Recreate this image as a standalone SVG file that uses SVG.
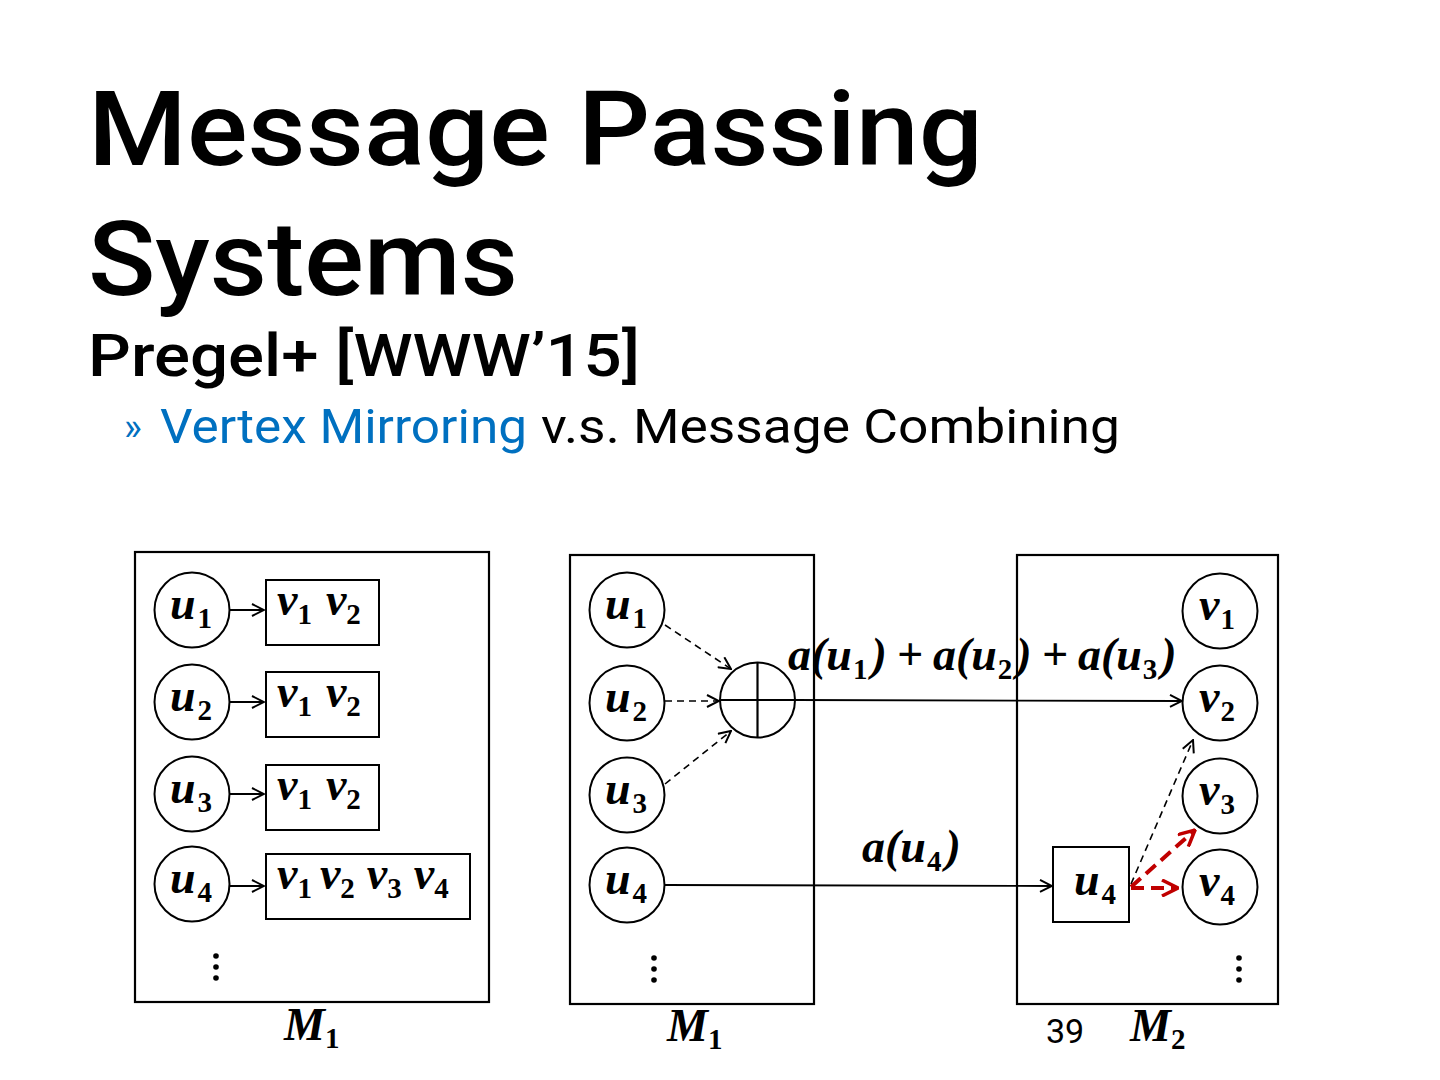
<svg xmlns="http://www.w3.org/2000/svg" width="1440" height="1080" viewBox="0 0 1440 1080">
<defs>
<marker id="ah" viewBox="0 0 14 14" refX="13" refY="7" markerWidth="14" markerHeight="14" markerUnits="userSpaceOnUse" orient="auto">
<path d="M1,1 L13,7 L1,13" fill="none" stroke="#000" stroke-width="2"/>
</marker>
<marker id="ahr" viewBox="0 0 18 18" refX="17" refY="9" markerWidth="18" markerHeight="18" markerUnits="userSpaceOnUse" orient="auto">
<path d="M1,1 L17,9 L1,17" fill="none" stroke="#c00000" stroke-width="3.5"/>
</marker>
</defs>
<style>
.t{font-family:Roboto,"Liberation Sans",Arial,sans-serif;fill:#000}
.b{fill:#0070c0}
.m{font-family:"Liberation Serif","Times New Roman",serif;font-weight:bold;font-style:italic;font-size:46px;fill:#000}
.s{font-style:normal;font-size:29px}
.n{fill:#fff;stroke:#000;stroke-width:2}
.p{fill:none;stroke:#000;stroke-width:2.2}
.c{fill:none;stroke:#000;stroke-width:1.8}
.d{fill:none;stroke:#000;stroke-width:1.6;stroke-dasharray:7 5}
.r{fill:none;stroke:#c00000;stroke-width:4;stroke-dasharray:13 7}
</style>
<rect width="1440" height="1080" fill="#fff"/>
<text class="t" x="88" y="165" font-size="104" font-weight="500" textLength="895" lengthAdjust="spacingAndGlyphs">Message Passing</text>
<text class="t" x="88" y="295" font-size="104" font-weight="500" textLength="430" lengthAdjust="spacingAndGlyphs">Systems</text>
<text class="t" x="88" y="376" font-size="60" font-weight="500" textLength="552" lengthAdjust="spacingAndGlyphs">Pregel+ [WWW’15]</text>
<text class="t b" x="124" y="440" font-size="38">»</text>
<text class="t b" x="160" y="443" font-size="48" textLength="367" lengthAdjust="spacingAndGlyphs">Vertex Mirroring</text>
<text class="t" x="541" y="443" font-size="48" textLength="579" lengthAdjust="spacingAndGlyphs">v.s. Message Combining</text>

<g id="panel-left">
<rect class="p" x="135" y="552" width="354" height="450"/>
</g>
<g id="panel-mid">
<rect class="p" x="570" y="555" width="244" height="449"/>
</g>
<g id="panel-right">
<rect class="p" x="1017" y="555" width="261" height="449"/>
</g>

<g id="connectors">
<line class="c" x1="230" y1="610" x2="264" y2="610" marker-end="url(#ah)"/>
<line class="c" x1="230" y1="702" x2="264" y2="702" marker-end="url(#ah)"/>
<line class="c" x1="230" y1="794" x2="264" y2="794" marker-end="url(#ah)"/>
<line class="c" x1="230" y1="886" x2="264" y2="886" marker-end="url(#ah)"/>
<line class="d" x1="665" y1="625" x2="731" y2="669" marker-end="url(#ah)"/>
<line class="d" x1="665" y1="701" x2="719" y2="701" marker-end="url(#ah)"/>
<line class="d" x1="665" y1="784" x2="731" y2="731" marker-end="url(#ah)"/>
<line class="c" x1="795" y1="700" x2="1182" y2="701" marker-end="url(#ah)"/>
<line class="c" x1="665" y1="885" x2="1052" y2="886" marker-end="url(#ah)"/>
<line class="d" x1="1131" y1="884" x2="1193" y2="740" marker-end="url(#ah)"/>
<line class="r" x1="1131" y1="887" x2="1195" y2="830" marker-end="url(#ahr)"/>
<line class="r" x1="1131" y1="888" x2="1178" y2="888" marker-end="url(#ahr)"/>
</g>

<g id="left-u1"><circle class="n" cx="192" cy="610" r="37.5"/><text class="m" x="170" y="619">u<tspan class="s" dx="2" dy="9">1</tspan></text></g>
<g id="left-u2"><circle class="n" cx="192" cy="702" r="37.5"/><text class="m" x="170" y="711">u<tspan class="s" dx="2" dy="9">2</tspan></text></g>
<g id="left-u3"><circle class="n" cx="192" cy="794" r="37.5"/><text class="m" x="170" y="803">u<tspan class="s" dx="2" dy="9">3</tspan></text></g>
<g id="left-u4"><circle class="n" cx="192" cy="884" r="37.5"/><text class="m" x="170" y="893">u<tspan class="s" dx="2" dy="9">4</tspan></text></g>
<g id="left-b1"><rect class="n" x="266" y="580" width="113" height="65"/><text class="m" x="277" y="615">v<tspan class="s" dy="9">1</tspan><tspan dx="14" dy="-9">v</tspan><tspan class="s" dy="9">2</tspan></text></g>
<g id="left-b2"><rect class="n" x="266" y="672" width="113" height="65"/><text class="m" x="277" y="707">v<tspan class="s" dy="9">1</tspan><tspan dx="14" dy="-9">v</tspan><tspan class="s" dy="9">2</tspan></text></g>
<g id="left-b3"><rect class="n" x="266" y="765" width="113" height="65"/><text class="m" x="277" y="800">v<tspan class="s" dy="9">1</tspan><tspan dx="14" dy="-9">v</tspan><tspan class="s" dy="9">2</tspan></text></g>
<g id="left-b4"><rect class="n" x="266" y="854" width="204" height="65"/><text class="m" x="277" y="889">v<tspan class="s" dy="9">1</tspan><tspan dx="8" dy="-9">v</tspan><tspan class="s" dy="9">2</tspan><tspan dx="12" dy="-9">v</tspan><tspan class="s" dy="9">3</tspan><tspan dx="12" dy="-9">v</tspan><tspan class="s" dy="9">4</tspan></text></g>
<g id="left-dots"><circle cx="216" cy="956" r="2.8"/><circle cx="216" cy="967" r="2.8"/><circle cx="216" cy="978" r="2.8"/></g>
<text class="m" x="284" y="1040" font-size="36">M<tspan class="s" font-size="24" dy="8">1</tspan></text>

<g id="mid-u1"><circle class="n" cx="627" cy="610" r="37.5"/><text class="m" x="605" y="619">u<tspan class="s" dx="2" dy="9">1</tspan></text></g>
<g id="mid-u2"><circle class="n" cx="627" cy="703" r="37.5"/><text class="m" x="605" y="712">u<tspan class="s" dx="2" dy="9">2</tspan></text></g>
<g id="mid-u3"><circle class="n" cx="627" cy="795" r="37.5"/><text class="m" x="605" y="804">u<tspan class="s" dx="2" dy="9">3</tspan></text></g>
<g id="mid-u4"><circle class="n" cx="627" cy="885" r="37.5"/><text class="m" x="605" y="894">u<tspan class="s" dx="2" dy="9">4</tspan></text></g>
<g id="combiner"><circle class="n" cx="757.5" cy="700" r="37.5"/><line class="p" x1="720" y1="700" x2="795" y2="700"/><line class="p" x1="757.5" y1="662.5" x2="757.5" y2="737.5"/></g>
<g id="mid-dots"><circle cx="654" cy="958" r="2.8"/><circle cx="654" cy="969" r="2.8"/><circle cx="654" cy="980" r="2.8"/></g>
<text class="m" x="667" y="1041" font-size="36">M<tspan class="s" font-size="24" dy="8">1</tspan></text>

<g id="right-v1"><circle class="n" cx="1220" cy="611" r="37.5"/><text class="m" x="1199" y="620">v<tspan class="s" dx="1" dy="9">1</tspan></text></g>
<g id="right-v2"><circle class="n" cx="1220" cy="703" r="37.5"/><text class="m" x="1199" y="712">v<tspan class="s" dx="1" dy="9">2</tspan></text></g>
<g id="right-v3"><circle class="n" cx="1220" cy="796" r="37.5"/><text class="m" x="1199" y="805">v<tspan class="s" dx="1" dy="9">3</tspan></text></g>
<g id="right-v4"><circle class="n" cx="1220" cy="887" r="37.5"/><text class="m" x="1199" y="896">v<tspan class="s" dx="1" dy="9">4</tspan></text></g>
<g id="right-u4"><rect class="n" x="1053" y="847" width="76" height="75"/><text class="m" x="1074" y="895">u<tspan class="s" dx="2" dy="9">4</tspan></text></g>
<g id="right-dots"><circle cx="1239" cy="958" r="2.8"/><circle cx="1239" cy="969" r="2.8"/><circle cx="1239" cy="980" r="2.8"/></g>
<text class="m" x="1130" y="1041" font-size="36">M<tspan class="s" font-size="24" dy="8">2</tspan></text>

<text class="m" x="788" y="670">a(u<tspan class="s" dx="1" dy="9">1</tspan><tspan dx="4" dy="-9">)</tspan><tspan dx="10">+</tspan><tspan dx="10">a(u</tspan><tspan class="s" dx="1" dy="9">2</tspan><tspan dx="4" dy="-9">)</tspan><tspan dx="10">+</tspan><tspan dx="10">a(u</tspan><tspan class="s" dx="1" dy="9">3</tspan><tspan dx="4" dy="-9">)</tspan></text>
<text class="m" x="862" y="862">a(u<tspan class="s" dx="1" dy="9">4</tspan><tspan dx="4" dy="-9">)</tspan></text>
<text class="t" x="1046" y="1043" font-size="34">39</text>
</svg>
